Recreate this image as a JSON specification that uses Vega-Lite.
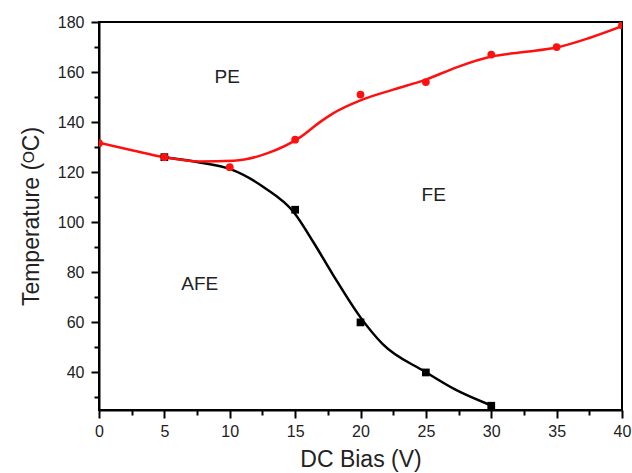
{
  "$schema": "https://vega.github.io/schema/vega-lite/v6.json",
  "width": 523,
  "height": 388,
  "autosize": "none",
  "padding": {"left": 99, "top": 22, "right": 10, "bottom": 63},
  "background": "white",
  "config": {
    "font": "Liberation Sans",
    "view": {"stroke": "black", "strokeWidth": 2}
  },
  "datasets": {
    "curves": [
      {"series": "PE", "x": 0, "y": 131.8},
      {"series": "PE", "x": 2.6, "y": 128.7},
      {"series": "PE", "x": 5, "y": 126},
      {"series": "PE", "x": 7.7, "y": 124.3},
      {"series": "PE", "x": 10.3, "y": 124.6},
      {"series": "PE", "x": 12.8, "y": 127.4},
      {"series": "PE", "x": 15.4, "y": 134},
      {"series": "PE", "x": 16.9, "y": 140},
      {"series": "PE", "x": 17.9, "y": 143.5},
      {"series": "PE", "x": 20, "y": 148.7},
      {"series": "PE", "x": 22.5, "y": 153},
      {"series": "PE", "x": 25, "y": 157},
      {"series": "PE", "x": 27.4, "y": 162},
      {"series": "PE", "x": 30, "y": 166.2},
      {"series": "PE", "x": 32.5, "y": 168},
      {"series": "PE", "x": 35, "y": 169.8},
      {"series": "PE", "x": 37.5, "y": 173.6},
      {"series": "PE", "x": 40, "y": 178.3},
      {"series": "AFE", "x": 5, "y": 126},
      {"series": "AFE", "x": 7.7, "y": 123.9},
      {"series": "AFE", "x": 10, "y": 121.3},
      {"series": "AFE", "x": 12.6, "y": 114},
      {"series": "AFE", "x": 14.9, "y": 104},
      {"series": "AFE", "x": 16.4, "y": 92},
      {"series": "AFE", "x": 17.9, "y": 79},
      {"series": "AFE", "x": 20, "y": 62},
      {"series": "AFE", "x": 21.7, "y": 51.3},
      {"series": "AFE", "x": 24.9, "y": 40.4},
      {"series": "AFE", "x": 27.3, "y": 33},
      {"series": "AFE", "x": 30, "y": 26.8}
    ],
    "points": [
      {"series": "AFE", "x": 5, "y": 126},
      {"series": "AFE", "x": 15, "y": 105},
      {"series": "AFE", "x": 20, "y": 60},
      {"series": "AFE", "x": 25, "y": 40},
      {"series": "AFE", "x": 30, "y": 26.7},
      {"series": "PE", "x": 0, "y": 131.6},
      {"series": "PE", "x": 5, "y": 126},
      {"series": "PE", "x": 10, "y": 122},
      {"series": "PE", "x": 15, "y": 133},
      {"series": "PE", "x": 20, "y": 151},
      {"series": "PE", "x": 25, "y": 156},
      {"series": "PE", "x": 30, "y": 167},
      {"series": "PE", "x": 35, "y": 170},
      {"series": "PE", "x": 40, "y": 178.7}
    ],
    "labels": [
      {"text": "PE", "x": 9.8, "y": 158},
      {"text": "FE", "x": 25.6, "y": 110.7},
      {"text": "AFE", "x": 7.7, "y": 75.3}
    ]
  },
  "encoding": {
    "x": {
      "field": "x", "type": "quantitative",
      "scale": {"domain": [0, 40], "nice": false, "zero": false},
      "axis": {
        "title": "DC Bias (V)",
        "titleFontSize": 23, "titleFontWeight": "normal", "titleColor": "#222",
        "titlePadding": 9,
        "values": [0, 2.5, 5, 7.5, 10, 12.5, 15, 17.5, 20, 22.5, 25, 27.5, 30, 32.5, 35, 37.5, 40],
        "labelExpr": "datum.value % 5 === 0 ? datum.label : ''",
        "labelFontSize": 16, "labelColor": "#222", "labelPadding": 5,
        "tickSize": {"condition": {"test": "datum.value % 5 === 0", "value": 8}, "value": 5},
        "tickColor": "black", "tickWidth": 2,
        "domainColor": "black", "domainWidth": 2,
        "grid": false, "labelFlush": false, "labelOverlap": false
      }
    },
    "y": {
      "field": "y", "type": "quantitative",
      "scale": {"domain": [25, 180], "nice": false, "zero": false},
      "axis": {
        "title": "Temperature (ᴼC)",
        "titleFontSize": 23, "titleFontWeight": "normal", "titleColor": "#222",
        "titlePadding": 14,
        "values": [30, 40, 50, 60, 70, 80, 90, 100, 110, 120, 130, 140, 150, 160, 170, 180],
        "labelExpr": "datum.value % 20 === 0 ? datum.label : ''",
        "labelFontSize": 16, "labelColor": "#222", "labelPadding": 7,
        "tickSize": {"condition": {"test": "datum.value % 20 === 0", "value": 8}, "value": 5},
        "tickColor": "black", "tickWidth": 2,
        "domainColor": "black", "domainWidth": 2,
        "grid": false, "labelFlush": false, "labelOverlap": false
      }
    }
  },
  "layer": [
    {
      "data": {"name": "curves"},
      "transform": [{"filter": "datum.series === 'AFE'"}],
      "mark": {"type": "line", "color": "black", "strokeWidth": 2.5, "interpolate": "monotone", "clip": true}
    },
    {
      "data": {"name": "curves"},
      "transform": [{"filter": "datum.series === 'PE'"}],
      "mark": {"type": "line", "color": "#ff1010", "strokeWidth": 2.5, "interpolate": "monotone", "clip": true}
    },
    {
      "data": {"name": "points"},
      "transform": [{"filter": "datum.series === 'AFE'"}],
      "mark": {"type": "point", "shape": "square", "filled": true, "color": "black", "size": 60, "opacity": 1, "clip": true}
    },
    {
      "data": {"name": "points"},
      "transform": [{"filter": "datum.series === 'PE'"}],
      "mark": {"type": "point", "shape": "circle", "filled": true, "color": "#ff1010", "size": 60, "opacity": 1, "clip": true}
    },
    {
      "data": {"name": "labels"},
      "mark": {"type": "text", "fontSize": 19, "color": "#222", "align": "center", "baseline": "middle"},
      "encoding": {"text": {"field": "text"}}
    }
  ]
}
